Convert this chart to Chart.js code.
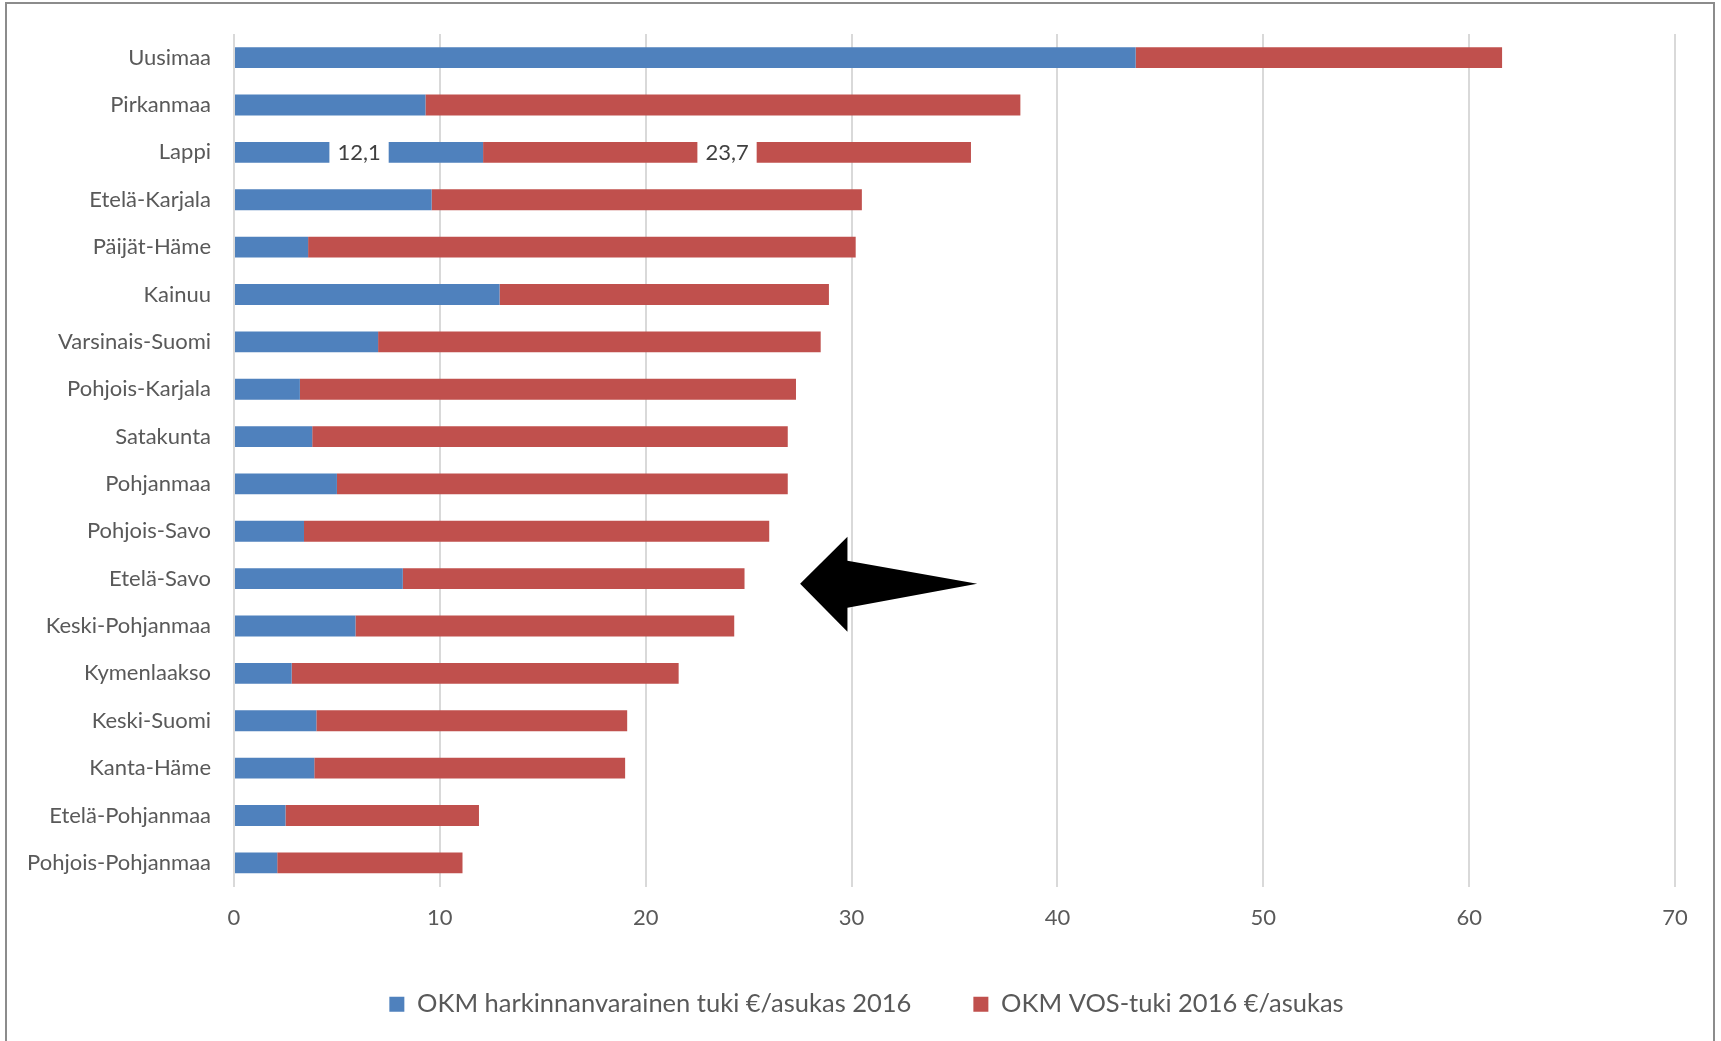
<!DOCTYPE html>
<html>
<head>
<meta charset="utf-8">
<script src="https://cdn.jsdelivr.net/npm/chart.js@4.4.1/dist/chart.umd.min.js"></script>
<style>
  body { margin: 0; background: #fff; }
  #wrap { position: relative; width: 1721px; height: 1041px; overflow: hidden; }
  #frame { position: absolute; left: 5px; top: 2px; width: 1710px; height: 1050px; border: 2px solid #8c8c8c; box-sizing: border-box; }
  canvas { position: absolute; left: 0; top: 0; }
</style>
</head>
<body>
<div id="wrap">
  <div id="frame"></div>
  <canvas id="chart" width="1721" height="1041"></canvas>
</div>
<script>
    // regions, top to bottom
    const regions = ['Uusimaa', 'Pirkanmaa', 'Lappi', 'Etelä-Karjala', 'Päijät-Häme', 'Kainuu',
        'Varsinais-Suomi', 'Pohjois-Karjala', 'Satakunta', 'Pohjanmaa', 'Pohjois-Savo', 'Etelä-Savo',
        'Keski-Pohjanmaa', 'Kymenlaakso', 'Keski-Suomi', 'Kanta-Häme', 'Etelä-Pohjanmaa', 'Pohjois-Pohjanmaa'];

    // OKM harkinnanvarainen tuki €/asukas 2016
    const harkinnanvarainen = [43.8, 9.3, 12.1, 9.6, 3.6, 12.9, 7.0, 3.2, 3.8, 5.0, 3.4, 8.2, 5.9, 2.8, 4.0, 3.9, 2.5, 2.1];
    // OKM VOS-tuki 2016 €/asukas
    const vosTuki = [17.8, 28.9, 23.7, 20.9, 26.6, 16.0, 21.5, 24.1, 23.1, 21.9, 22.6, 16.6, 18.4, 18.8, 15.1, 15.1, 9.4, 9.0];

    const seriesNames = ['OKM harkinnanvarainen tuki €/asukas 2016', 'OKM VOS-tuki 2016 €/asukas'];
    const xTicks = [0, 10, 20, 30, 40, 50, 60, 70];
    const labelledRegions = ['Lappi'];

    // the arrow drawn on the chart, in value units on x
    const arrow = { region: 'Etelä-Savo', tip: 27.5, headBack: 29.8, tail: 36.1 };

    const FONT = 'Lato, "Open Sans", sans-serif';
    const TEXT = '#595959';

    const valueLabels = {
        id: 'valueLabels',
        afterDatasetsDraw(chart) {
            const ctx = chart.ctx;
            ctx.save();
            ctx.font = '22px ' + FONT;
            ctx.textAlign = 'center';
            ctx.textBaseline = 'middle';
            labelledRegions.forEach(name => {
                const i = regions.indexOf(name);
                chart.data.datasets.forEach((ds, d) => {
                    const bar = chart.getDatasetMeta(d).data[i];
                    const txt = ds.data[i].toFixed(1).replace('.', ',');
                    const cx = (bar.x + bar.base) / 2;
                    const w = ctx.measureText(txt).width + 16;
                    ctx.fillStyle = '#fff';
                    ctx.fillRect(cx - w / 2, bar.y - bar.height / 2 - 1, w, bar.height + 2);
                    ctx.fillStyle = '#404040';
                    ctx.fillText(txt, cx, bar.y + 1);
                });
            });
            ctx.restore();
        }
    };

    const arrowPlugin = {
        id: 'arrowPlugin',
        afterDraw(chart) {
            const x = chart.scales.x, y = chart.scales.y;
            const cy = y.getPixelForValue(regions.indexOf(arrow.region)) + 5;
            const tip = x.getPixelForValue(arrow.tip);
            const back = x.getPixelForValue(arrow.headBack);
            const tail = x.getPixelForValue(arrow.tail);
            const ctx = chart.ctx;
            ctx.save();
            ctx.fillStyle = '#000';
            ctx.beginPath();
            ctx.moveTo(tip, cy);
            ctx.lineTo(back, cy - 47);
            ctx.lineTo(back, cy - 23);
            ctx.lineTo(tail, cy);
            ctx.lineTo(back, cy + 24);
            ctx.lineTo(back, cy + 48);
            ctx.closePath();
            ctx.fill();
            ctx.restore();
        }
    };

    // legend in the original sits a bit right of the canvas centre
    const legendShift = {
        id: 'legendShift',
        afterLayout(chart) {
            chart.legend.left += 29;
            chart.legend.right += 29;
        }
    };

    new Chart(document.getElementById('chart').getContext('2d'), {
        type: 'bar',
        data: {
            labels: regions,
            datasets: [
                {
                    label: seriesNames[0],
                    data: harkinnanvarainen,
                    backgroundColor: '#4F81BD',
                    barPercentage: 0.44,
                    categoryPercentage: 1
                },
                {
                    label: seriesNames[1],
                    data: vosTuki,
                    backgroundColor: '#C0504D',
                    barPercentage: 0.44,
                    categoryPercentage: 1
                }
            ]
        },
        options: {
            indexAxis: 'y',
            responsive: false,
            animation: false,
            devicePixelRatio: 1,
            layout: { padding: { top: 34, right: 46, bottom: 14, left: 0 } },
            scales: {
                x: {
                    stacked: true,
                    min: 0,
                    max: 70,
                    afterBuildTicks: scale => { scale.ticks = xTicks.map(v => ({ value: v })); },
                    afterFit: scale => { scale.height = 43; },
                    grid: { color: '#d9d9d9', lineWidth: 2, drawTicks: false },
                    border: { display: false },
                    ticks: { padding: 20, color: TEXT, font: { family: FONT, size: 22, lineHeight: 1 } }
                },
                y: {
                    stacked: true,
                    afterFit: scale => { scale.width = 234; },
                    grid: { display: false },
                    border: { display: false },
                    ticks: { padding: 15, color: TEXT, font: { family: FONT, size: 22 } }
                }
            },
            plugins: {
                legend: {
                    position: 'bottom',
                    labels: {
                        boxWidth: 15,
                        boxHeight: 15,
                        padding: 62,
                        color: TEXT,
                        font: { family: FONT, size: 25.5 }
                    }
                },
                tooltip: { enabled: false }
            }
        },
        plugins: [valueLabels, arrowPlugin, legendShift]
    });
</script>
</body>
</html>
